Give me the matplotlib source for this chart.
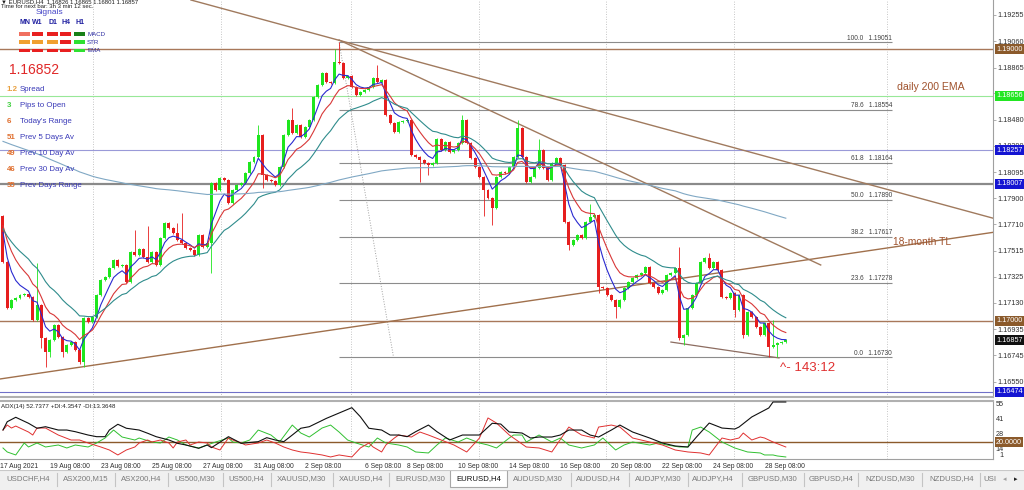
import matplotlib
matplotlib.use("Agg")
import matplotlib.pyplot as plt
import matplotlib.transforms as mtransforms
from matplotlib.patches import Rectangle
import numpy as np
import pandas as pd

plt.rcParams['font.family'] = ['Liberation Sans', 'DejaVu Sans']

# ---------------- data ----------------
symbol_header = "\u25BC EURUSD,H4  1.16826 1.16865 1.16801 1.16857"
timer_text = "Time for next bar: 3h 3 min 12 sec."
first_open = 1.17771
closes = [
    1.17432, 1.17093, 1.17152, 1.17167, 1.17189, 1.17196, 1.17174, 1.17005, 1.17115, 1.16872,
    1.16769, 1.16857, 1.16968, 1.16879, 1.16769, 1.16820, 1.16842, 1.16784, 1.16695, 1.17019,
    1.16990, 1.17027, 1.17189, 1.17299, 1.17322, 1.17388, 1.17447, 1.17403, 1.17410, 1.17285,
    1.17506, 1.17484, 1.17528, 1.17469, 1.17432, 1.17506, 1.17410, 1.17609, 1.17719, 1.17683,
    1.17646, 1.17594, 1.17572, 1.17535, 1.17521, 1.17484, 1.17631, 1.17543, 1.17572, 1.18014,
    1.17963, 1.18051, 1.18036, 1.17867, 1.17963, 1.18000, 1.18014, 1.18088, 1.18169, 1.18206,
    1.18368, 1.18073, 1.18036, 1.18030, 1.18000, 1.18132, 1.18368, 1.18479, 1.18383, 1.18442,
    1.18353, 1.18427, 1.18479, 1.18648, 1.18737, 1.18825, 1.18759, 1.18751, 1.18906, 1.18899,
    1.18788, 1.18803, 1.18722, 1.18663, 1.18685, 1.18700, 1.18722, 1.18788, 1.18759, 1.18773,
    1.18515, 1.18456, 1.18390, 1.18464, 1.18470, 1.18479, 1.18221, 1.18206, 1.18184, 1.18162,
    1.18147, 1.18162, 1.18339, 1.18258, 1.18316, 1.18243, 1.18258, 1.18309, 1.18479, 1.18309,
    1.18199, 1.18132, 1.18059, 1.17963, 1.17904, 1.17830, 1.18059, 1.18095, 1.18090, 1.18132,
    1.18206, 1.18420, 1.18206, 1.18022, 1.18059, 1.18125, 1.18258, 1.18125, 1.18036, 1.18162,
    1.18199, 1.18147, 1.17727, 1.17557, 1.17594, 1.17631, 1.17609, 1.17727, 1.17764, 1.17778,
    1.17248, 1.17240, 1.17189, 1.17152, 1.17100, 1.17152, 1.17240, 1.17285, 1.17314, 1.17336,
    1.17351, 1.17395, 1.17277, 1.17248, 1.17204, 1.17226, 1.17336, 1.17351, 1.17388, 1.16872,
    1.16894, 1.17093, 1.17189, 1.17277, 1.17432, 1.17462, 1.17388, 1.17432, 1.17373, 1.17174,
    1.17167, 1.17204, 1.17078, 1.17189, 1.16894, 1.17064, 1.17027, 1.16953, 1.16894, 1.16983,
    1.16806, 1.16820, 1.16835, 1.16840, 1.16857,
]
highs_extra = {8: 1.17425, 31: 1.17668, 34: 1.17700, 41: 1.17720, 42: 1.17793, 60: 1.18442,
               68: 1.18567, 78: 1.19000, 79: 1.19051, 88: 1.18884, 108: 1.18515, 121: 1.18480,
               126: 1.18340, 138: 1.17860, 159: 1.17543, 166: 1.17500, 181: 1.17005}
lows_extra = {9: 1.16800, 10: 1.16658, 11: 1.16732, 14: 1.16732, 18: 1.16680, 19: 1.16658,
              49: 1.17351, 61: 1.17977, 98: 1.18022, 100: 1.18075, 113: 1.17770, 115: 1.17705,
              133: 1.17521, 140: 1.17200, 144: 1.17019, 159: 1.16857, 160: 1.16820, 172: 1.17027,
              174: 1.16872, 180: 1.16730, 182: 1.16732}

ema_periods = [5, 10, 21, 200]
ema_seeds = [1.17760, 1.17760, 1.17700, 1.18330]

price_ticks = [1.19255, 1.19060, 1.18865, 1.18675, 1.18480, 1.18290, 1.18095, 1.17900,
               1.17710, 1.17515, 1.17325, 1.17130, 1.16935, 1.16745, 1.16550]
level_prices = [1.19000, 1.18656, 1.18257, 1.18007, 1.17000, 1.16474]
level_box_colors = ['#8b5a2b', '#22e622', '#1414d2', '#1414d2', '#8b5a2b', '#1414d2']
level_line_colors = ['#a8785a', '#98e898', '#9a9ad8', '#8a8a8a', '#a8785a', '#7070c8']
level_line_widths = [1.0, 0.8, 0.8, 1.6, 1.0, 0.8]
bid_price = 1.16857

fib_high, fib_low = 1.19051, 1.16730
fib_ratios = [100.0, 78.6, 61.8, 50.0, 38.2, 23.6, 0.0]
fib_start_bar, fib_end_bar = 79, 209

date_label_bars = [-0.7, 11, 23, 35, 47, 59, 71, 85, 95, 107, 119, 131, 143, 155, 167, 179]
date_labels = ["17 Aug 2021", "19 Aug 08:00", "23 Aug 08:00", "25 Aug 08:00", "27 Aug 08:00",
               "31 Aug 08:00", "2 Sep 08:00", "6 Sep 08:00", "8 Sep 08:00", "10 Sep 08:00",
               "14 Sep 08:00", "16 Sep 08:00", "20 Sep 08:00", "22 Sep 08:00", "24 Sep 08:00",
               "28 Sep 08:00"]
grid_bars = [21.2, 51.3, 81.8, 111.9, 141.7, 171.8, 207.8]

adx_bars = [0, 1, 3, 6, 8, 10, 13, 15, 17, 20, 22, 24, 25, 27, 29, 32, 34, 36, 39, 41,
            43, 46, 48, 49, 53, 56, 60, 62, 64, 66, 68, 70, 72, 76, 82, 84, 86, 89, 91, 93,
            95, 97, 100, 102, 105, 108, 112, 115, 117, 119, 122, 124, 126, 129, 131, 133, 136, 138, 140, 143,
            145, 148, 152, 155, 158, 161, 163, 166, 169, 172, 173, 176, 180, 181, 184]
adx_vals = [30.8, 38.3, 42.3, 36.9, 32.4, 33.8, 30.8, 30.8, 29.3, 26.3, 24.8, 24.8, 30.8, 36.0, 32.4, 30.8, 27.9, 24.8, 21.8, 18.8,
            17.3, 14.3, 17.3, 14.9, 24.8, 18.8, 20.3, 23.9, 21.8, 20.3, 26.3, 32.4, 33.8, 41.3, 51.0, 42.8, 32.4, 30.8, 26.3, 26.3,
            24.8, 29.3, 35.3, 29.3, 21.8, 26.3, 26.3, 36.9, 36.2, 29.0, 28.1, 23.6, 24.5, 24.5, 26.3, 30.8, 30.8, 26.3, 24.5, 30.8,
            35.3, 29.0, 23.6, 19.1, 16.4, 15.5, 24.5, 37.1, 32.6, 31.7, 33.5, 42.6, 50.7, 56.1, 56.1]
minus_di_bars = [0, 1, 2, 3, 4, 6, 7, 8, 10, 13, 16, 18, 20, 23, 25, 27, 29, 31, 32, 34,
                 35, 37, 39, 40, 41, 43, 44, 46, 48, 49, 51, 53, 54, 56, 57, 60, 62, 64, 66, 68,
                 70, 72, 75, 77, 79, 82, 84, 86, 87, 89, 90, 92, 93, 96, 98, 100, 103, 106, 109, 112,
                 114, 116, 119, 120, 123, 126, 129, 133, 136, 139, 140, 143, 145, 148, 152, 155, 158, 161, 164, 166,
                 169, 171, 173, 174, 176, 178, 179, 181, 184]
minus_di_vals = [30.8, 35.3, 32.6, 34.4, 32.6, 29.0, 26.3, 32.6, 32.6, 26.3, 21.8, 21.8, 19.1, 15.5, 12.8, 8.3, 12.8, 15.5, 19.1, 21.8,
                 20.0, 21.8, 19.1, 14.6, 20.0, 21.8, 17.3, 20.0, 19.1, 15.5, 12.8, 23.6, 21.8, 19.1, 17.3, 19.1, 21.8, 19.1, 15.5, 12.8,
                 11.0, 10.1, 8.3, 6.5, 8.3, 6.5, 14.6, 19.1, 15.5, 11.0, 17.3, 23.6, 26.3, 24.5, 29.0, 26.3, 21.8, 17.3, 11.0, 23.6,
                 41.7, 37.1, 26.3, 23.6, 15.5, 14.6, 11.0, 33.5, 26.3, 23.6, 33.5, 35.3, 33.5, 23.6, 20.0, 17.3, 12.8, 11.0, 10.1, 8.3,
                 23.6, 21.8, 23.6, 28.1, 21.8, 24.5, 23.6, 20.0, 15.5]
plus_di_bars = [0, 1, 3, 5, 6, 8, 10, 13, 15, 17, 20, 22, 24, 26, 28, 31, 32, 35, 37, 39,
                41, 43, 46, 48, 50, 53, 54, 56, 58, 60, 63, 65, 68, 70, 72, 75, 77, 79, 81, 83,
                86, 88, 90, 93, 95, 97, 100, 102, 104, 107, 109, 112, 114, 116, 119, 120, 122, 123, 126, 129,
                131, 133, 136, 139, 141, 144, 146, 148, 152, 154, 156, 159, 161, 162, 164, 166, 169, 172, 175, 178,
                179, 181, 182, 184]
plus_di_vals = [14.6, 11.0, 8.3, 19.1, 15.5, 19.1, 15.5, 17.3, 14.6, 17.3, 15.5, 19.1, 23.6, 30.8, 24.5, 21.8, 23.6, 20.0, 19.1, 24.5,
                21.8, 17.3, 14.6, 17.3, 20.0, 23.6, 20.0, 19.1, 21.8, 30.8, 26.3, 20.0, 35.3, 28.1, 24.5, 32.6, 35.3, 29.0, 21.8, 19.1,
                15.5, 23.6, 19.1, 17.3, 15.5, 11.0, 10.1, 17.3, 23.6, 20.0, 23.6, 19.1, 17.3, 14.6, 23.6, 26.3, 26.3, 20.0, 26.3, 20.0,
                23.6, 17.3, 14.6, 17.3, 23.6, 12.8, 17.3, 20.0, 17.3, 19.1, 17.3, 15.5, 15.5, 30.8, 33.5, 29.0, 20.0, 14.6, 11.0, 10.1,
                8.3, 8.3, 7.4, 6.5]
adx_header = "ADX(14) 52.7377 +DI:4.3547 -DI:13.3648"
adx_level = 20.0
adx_ticks = [55, 41, 28, 14]

signal_cols = ["MN", "W1", "D1", "H4", "H1"]
signal_rows = ["MACD", "STR", "EMA"]
signal_colors = [['#f07060', '#e82020', '#e82020', '#e82020', '#188018'],
                 ['#f0a030', '#f0a030', '#f0a030', '#e82020', '#30e030'],
                 ['#e82020', '#e82020', '#e82020', '#e82020', '#30e030']]
big_price = "1.16852"
info_values = ["1.2", "3", "6", "51", "49", "46", "35"]
info_labels = ["Spread", "Pips to Open", "Today's Range", "Prev 5 Days Av",
               "Prev 10 Day Av", "Prev 30 Day Av", "Prev Days Range"]
info_value_colors = ['#e8a040', '#40d040', '#e07030', '#e07030', '#e07030', '#e07030', '#e07030']

tab_names = ["USDCHF,H4", "ASX200,M15", "ASX200,H4", "US500,M30", "US500,H4", "XAUUSD,M30",
             "XAUUSD,H4", "EURUSD,M30", "EURUSD,H4", "AUDUSD,M30", "AUDUSD,H4", "AUDJPY,M30",
             "AUDJPY,H4", "GBPUSD,M30", "GBPUSD,H4", "NZDUSD,M30", "NZDUSD,H4", "USI"]
active_tab = "EURUSD,H4"

# ---------------- figure ----------------
W, H = 1024, 490
fig = plt.figure(figsize=(W / 100, H / 100), dpi=100)
fig.patch.set_facecolor('white')


def box(x0, y0, x1, y1):
    return [x0 / W, 1 - y1 / H, (x1 - x0) / W, (y1 - y0) / H]


ax = fig.add_axes(box(0, 0, 993, 397))
ax2 = fig.add_axes(box(0, 401, 993, 459))
tabs = fig.add_axes(box(0, 470, 1024, 490))
over = fig.add_axes([0, 0, 1, 1], zorder=20)
over.set_xlim(0, W)
over.set_ylim(H, 0)
over.axis('off')

XMIN, XMAX = -0.7, 232.7
PMIN, PMAX = 1.16437, 1.19363

bull, bear = '#1ee61e', '#e61e1e'
n = len(closes)
idx = np.arange(n)
c = np.array(closes)
o = np.concatenate([[first_open], c[:-1]])
wick_pad = 0.00008
hi = np.maximum(o, c) + wick_pad
lo = np.minimum(o, c) - wick_pad
for k, v in highs_extra.items():
    hi[k] = max(v, max(o[k], c[k]))
for k, v in lows_extra.items():
    lo[k] = min(v, min(o[k], c[k]))
cols = np.where(c >= o, bull, bear)
ax.vlines(idx, lo, hi, colors=cols, lw=0.6, zorder=4)
body = np.maximum(np.abs(c - o), 0.00004)
ax.bar(idx, body, bottom=np.minimum(o, c), width=0.7, color=cols, lw=0, zorder=5)


def ema(values, period, seed):
    s = pd.Series([seed] + list(values))
    return s.ewm(span=period, adjust=False).mean().to_numpy()[1:]


ema_colors = ['#2a2ad0', '#d83838', '#2f8c8c', '#80a8c4']
for p, sd, col in zip(ema_periods, ema_seeds, ema_colors):
    ax.plot(idx, ema(closes, p, sd), color=col, lw=0.8, zorder=6)

# horizontal levels
for p, lc, lw in zip(level_prices, level_line_colors, level_line_widths):
    ax.axhline(p, color=lc, lw=lw, zorder=2)

# fibonacci
for r in fib_ratios:
    lvl = fib_low + (fib_high - fib_low) * r / 100.0
    ax.hlines(lvl, fib_start_bar, fib_end_bar, color='#8c8c8c', lw=0.8, zorder=2)
    ax.text(fib_end_bar, lvl + 0.00004, f"{r:.1f}   {lvl:.5f}", ha='right', va='bottom',
            fontsize=4.7, color='#404040', zorder=7)
ax.plot([fib_start_bar, 91.8], [fib_high, fib_low], color='#a0a0a0', lw=0.7, ls=':', zorder=3)

# trend lines
tl_col = '#a07a5e'
ax.axline((0, 1.16573), (230, 1.17638), color='#a0704c', lw=1.0, zorder=3)
ax.axline((79, 1.19066), (230, 1.17778), color=tl_col, lw=1.0, zorder=3)
ax.plot([79, 192.2], [1.19068, 1.17410], color=tl_col, lw=1.0, zorder=3)
ax.plot([157, 182.4], [1.16842, 1.16725], color='#8c6c60', lw=0.9, zorder=3)

ax.text(182.6, 1.16651, "^- 143:12", color='#e03030', fontsize=9.5, ha='left', va='center', zorder=8)
ax.text(210.1, 1.18722, "daily 200 EMA", color='#a0522d', fontsize=7.6, ha='left', va='center', zorder=8)
ax.text(209.2, 1.17579, "18-month TL", color='#a0522d', fontsize=7.4, ha='left', va='center', zorder=8)

for g in grid_bars:
    ax.axvline(g, color='#b4b4b4', lw=0.6, ls=(0, (1, 2)), zorder=1)
    ax2.axvline(g, color='#b4b4b4', lw=0.6, ls=(0, (1, 2)), zorder=1)

ax.set_xlim(XMIN, XMAX)
ax.set_ylim(PMIN, PMAX)
ax.set_xticks([])
ax.yaxis.tick_right()
ax.set_yticks(price_ticks)
ax.set_yticklabels([f"{p:.5f}" for p in price_ticks])
ax.tick_params(axis='y', labelsize=5.2, labelcolor='#303030', length=2, width=0.5,
               color='#909090', pad=1.5)
for s in ['left', 'top']:
    ax.spines[s].set_visible(False)
ax.spines['right'].set_color('#a0a0a0')
ax.spines['right'].set_linewidth(0.8)
ax.spines['bottom'].set_color('#b0b0b0')
ax.spines['bottom'].set_linewidth(1.5)

blend = mtransforms.blended_transform_factory(ax.transAxes, ax.transData)
for p, fc in zip(level_prices, level_box_colors):
    ax.text(1.003, p, f"{p:.5f}", transform=blend, ha='left', va='center', fontsize=5.2,
            color='white', zorder=10, clip_on=False,
            bbox=dict(boxstyle='square,pad=0.2', fc=fc, ec='none'))
ax.text(1.003, bid_price, f"{bid_price:.5f}", transform=blend, ha='left', va='center',
        fontsize=5.2, color='white', zorder=10, clip_on=False,
        bbox=dict(boxstyle='square,pad=0.2', fc='#101010', ec='none'))

# ---------------- ADX panel ----------------
ax2.plot(adx_bars, adx_vals, color='#101010', lw=0.8, zorder=4)
ax2.plot(plus_di_bars, plus_di_vals, color='#30c030', lw=0.7, zorder=3)
ax2.plot(minus_di_bars, minus_di_vals, color='#e03030', lw=0.7, zorder=3)
ax2.axhline(adx_level, color='#8b5a2b', lw=1.0, zorder=2)
ax2.set_xlim(XMIN, XMAX)
ax2.set_ylim(4.66, 57)
ax2.yaxis.tick_right()
ax2.set_yticks(adx_ticks)
ax2.set_yticklabels([str(t) for t in adx_ticks])
ax2.tick_params(axis='y', labelsize=5.2, labelcolor='#303030', length=0, pad=2)
ax2.set_xticks(date_label_bars)
ax2.set_xticklabels(date_labels)
ax2.tick_params(axis='x', labelsize=4.9, labelcolor='#303030', length=0, pad=3)
for lbl in ax2.get_xticklabels():
    lbl.set_ha('left')
ax2.spines['left'].set_visible(False)
ax2.spines['top'].set_color('#b0b0b0')
ax2.spines['top'].set_linewidth(1.5)
ax2.spines['right'].set_color('#a0a0a0')
ax2.spines['right'].set_linewidth(0.8)
ax2.spines['bottom'].set_color('#a0a0a0')
ax2.spines['bottom'].set_linewidth(0.8)
ax2.text(0.001, 0.95, adx_header, transform=ax2.transAxes, ha='left', va='top',
         fontsize=4.4, color='#202020')
blend2 = mtransforms.blended_transform_factory(ax2.transAxes, ax2.transData)
ax2.text(1.003, adx_level, f"{adx_level:.4f}", transform=blend2, ha='left', va='center',
         fontsize=5.2, color='white', zorder=10, clip_on=False,
         bbox=dict(boxstyle='square,pad=0.2', fc='#8b5a2b', ec='none'))
ax2.text(1.006, 0.0, "1", transform=ax2.transAxes, ha='left', va='bottom', fontsize=5.2,
         color='#303030', clip_on=False)

# ---------------- overlay: header and signal panel ----------------
over.text(1, 2.2, symbol_header, fontsize=4.3, color='#202020', va='center', ha='left')
over.text(1, 6.6, timer_text, fontsize=4.3, color='#202020', va='center', ha='left')
over.text(36, 12, "Signals", fontsize=6.0, color='#4646c8', va='center', ha='left')
col_x = [19, 32, 47, 60, 74]
for cx, name in zip(col_x, signal_cols):
    over.text(cx + 5.5, 22, name, fontsize=5.0, fontweight='bold', color='#1e1ea0',
              va='center', ha='center')
row_y = [34, 42.3, 50.7]
for ry, rname, rcols in zip(row_y, signal_rows, signal_colors):
    for cx, fc in zip(col_x, rcols):
        over.add_patch(Rectangle((cx, ry - 1.8), 11, 3.6, fc=fc, ec='none'))
    over.text(87, ry, rname, fontsize=4.4, color='#2a2aa0', va='center', ha='left')
over.text(9, 70, big_price, fontsize=10, color='#e02828', va='center', ha='left')
info_y = [89.3, 105.5, 121.5, 137.3, 153.3, 169.3, 185]
for y, v, lab, vc in zip(info_y, info_values, info_labels, info_value_colors):
    over.text(6.5, y, v, fontsize=5.7, color=vc, va='center', ha='left', fontweight='bold')
    over.text(20, y, lab, fontsize=5.7, color='#3a3ab8', va='center', ha='left')

# ---------------- tabs ----------------
tabs.set_xlim(0, W)
tabs.set_ylim(20, 0)
tabs.set_facecolor('#f0f0f0')
for s in tabs.spines.values():
    s.set_visible(False)
tabs.set_xticks([])
tabs.set_yticks([])
tab_centers = [28, 86, 141, 195, 246, 302, 361, 420, 479, 538, 598, 658, 713, 773, 831, 890, 952, 990]
tab_seps = [57, 115, 168, 223, 271, 333, 389, 571, 629, 688, 742, 804, 858, 922, 980]
tabs.axhline(0.3, color='#c8c8c8', lw=0.8)
for sx in tab_seps:
    tabs.plot([sx, sx], [3, 16], color='#c4c4c4', lw=0.8)
for name, cx in zip(tab_names, tab_centers):
    if name == active_tab:
        tabs.add_patch(Rectangle((450, 0), 57, 17, fc='white', ec='#a8a8a8', lw=0.8))
        tabs.text(cx, 9, name, fontsize=5.6, color='#101010', ha='center', va='center')
    else:
        tabs.text(cx, 9, name, fontsize=5.6, color='#7a7a7a', ha='center', va='center')
tabs.text(1005, 9, "\u25C2", fontsize=5, color='#a0a0a0', ha='center', va='center',
          family=['DejaVu Sans'])
tabs.text(1016, 9, "\u25B8", fontsize=5, color='#202020', ha='center', va='center',
          family=['DejaVu Sans'])

fig.savefig("out.png", dpi=100, facecolor='white')
